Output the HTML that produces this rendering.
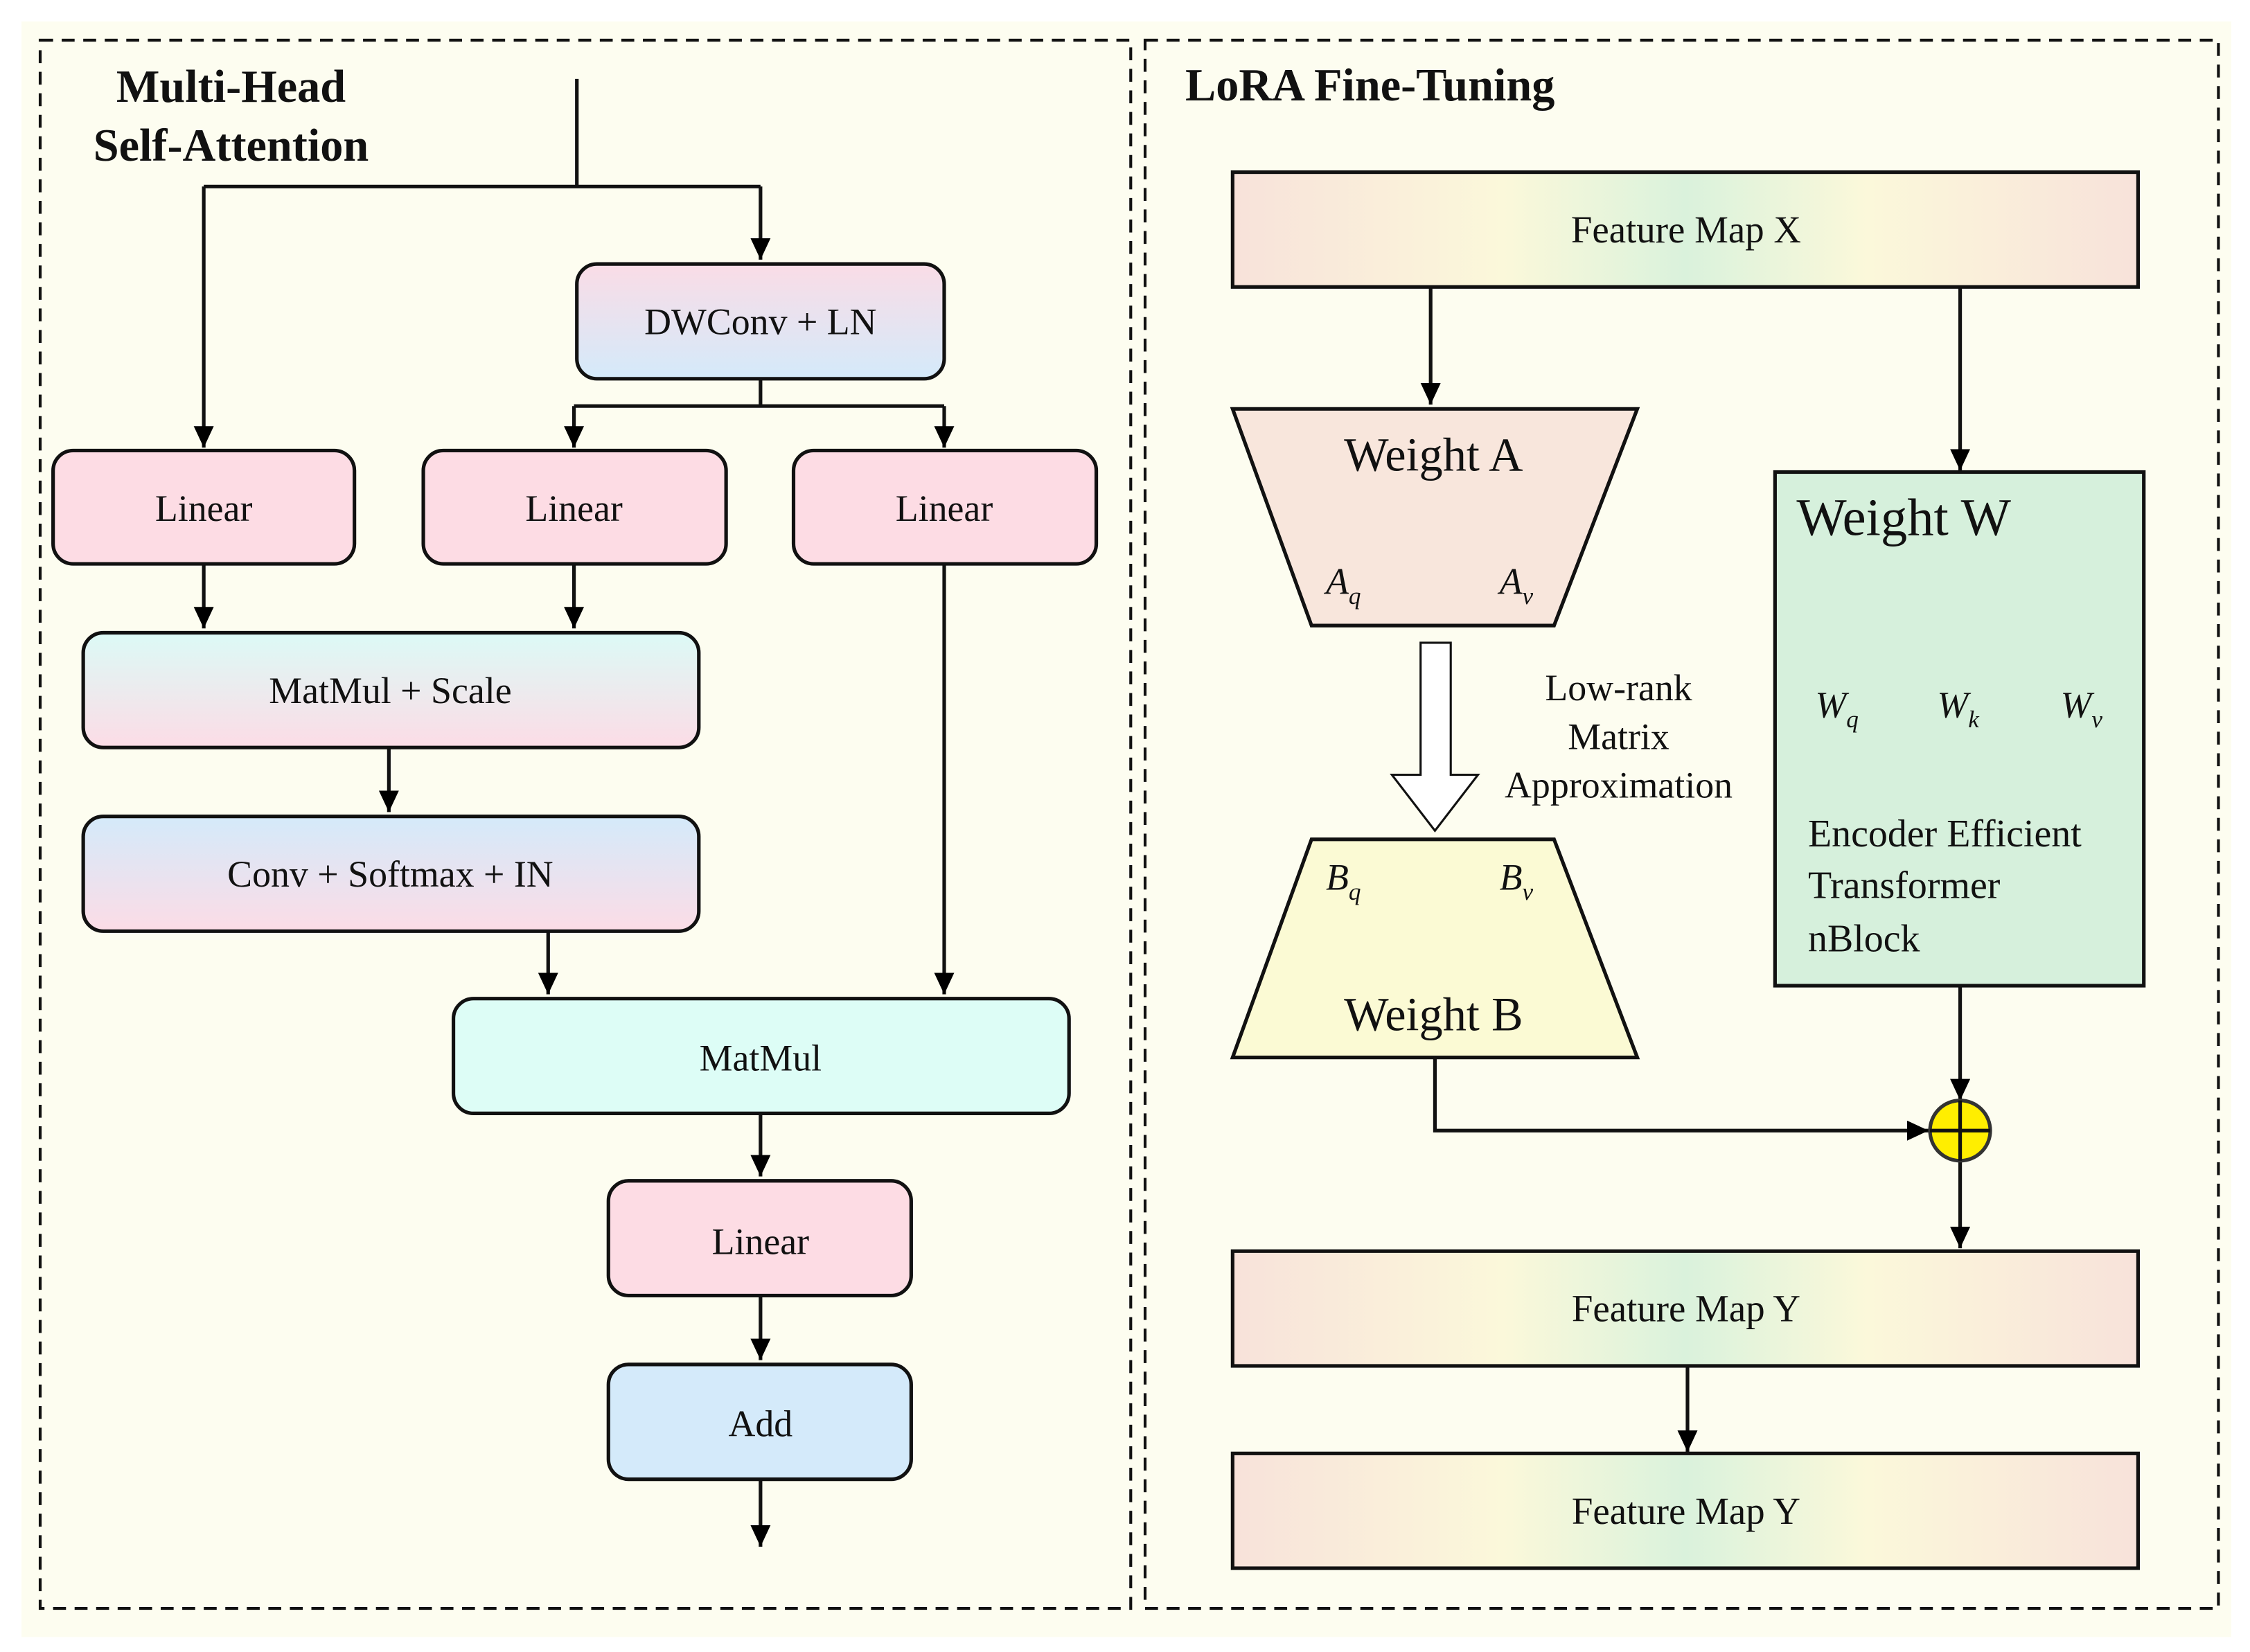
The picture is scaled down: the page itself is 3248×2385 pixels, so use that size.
<!DOCTYPE html>
<html><head><meta charset="utf-8"><style>
html,body{margin:0;padding:0;background:#fff}
svg{display:block}
text{font-family:"Liberation Serif",serif;fill:#111}
</style></head><body>
<svg width="3248" height="2385" viewBox="0 0 1568 1151.4" preserveAspectRatio="none" xmlns="http://www.w3.org/2000/svg">
<defs>
<linearGradient id="pb" x1="0" y1="0" x2="0" y2="1"><stop offset="0" stop-color="#fadce6"/><stop offset="1" stop-color="#d4eafa"/></linearGradient>
<linearGradient id="cp" x1="0" y1="0" x2="0" y2="1"><stop offset="0" stop-color="#dcfaf6"/><stop offset="1" stop-color="#fcdce6"/></linearGradient>
<linearGradient id="bp" x1="0" y1="0" x2="0" y2="1"><stop offset="0" stop-color="#d4eafa"/><stop offset="1" stop-color="#fcdce6"/></linearGradient>
<linearGradient id="fm" x1="0" y1="0" x2="1" y2="0"><stop offset="0" stop-color="#f8e2da"/><stop offset="0.3" stop-color="#fbf8da"/><stop offset="0.5" stop-color="#daf2dc"/><stop offset="0.7" stop-color="#fbf8da"/><stop offset="1" stop-color="#f8e2da"/></linearGradient>
<marker id="av" markerWidth="16" markerHeight="16" refX="15" refY="7" orient="auto" markerUnits="userSpaceOnUse"><path d="M0,0 L15,7 L0,14 z" fill="#000"/></marker>
</defs>
<rect x="15" y="15" width="1540" height="1126" fill="#fdfdf0"/>
<rect x="28" y="28" width="760" height="1093" fill="none" stroke="#111" stroke-width="2" stroke-dasharray="9,6"/>
<rect x="798" y="28" width="748" height="1093" fill="none" stroke="#111" stroke-width="2" stroke-dasharray="9,6"/>
<text x="161" y="71" font-size="32" font-weight="bold" text-anchor="middle">Multi-Head</text>
<text x="161" y="112" font-size="32" font-weight="bold" text-anchor="middle">Self-Attention</text>
<text x="826" y="70" font-size="32" font-weight="bold">LoRA Fine-Tuning</text>

<g stroke="#111" stroke-width="2.5" fill="none">
<path d="M402,55 V130 M142,130 H530"/>
<path d="M142,130 V312" marker-end="url(#av)"/>
<path d="M530,130 V181" marker-end="url(#av)"/>
<path d="M530,265 V283 M400,283 H658"/>
<path d="M400,283 V312" marker-end="url(#av)"/>
<path d="M658,283 V312" marker-end="url(#av)"/>
<path d="M142,394 V438" marker-end="url(#av)"/>
<path d="M400,394 V438" marker-end="url(#av)"/>
<path d="M658,394 V693" marker-end="url(#av)"/>
<path d="M271,521 V566" marker-end="url(#av)"/>
<path d="M382,649 V693" marker-end="url(#av)"/>
<path d="M530,777 V820" marker-end="url(#av)"/>
<path d="M530,904 V948" marker-end="url(#av)"/>
<path d="M530,1032 V1078" marker-end="url(#av)"/>
</g>
<g stroke="#111" stroke-width="2.5">
<rect x="402" y="184" width="256" height="80" rx="14" fill="url(#pb)"/>
<rect x="37" y="314" width="210" height="79" rx="14" fill="#fddce4"/>
<rect x="295" y="314" width="211" height="79" rx="14" fill="#fddce4"/>
<rect x="553" y="314" width="211" height="79" rx="14" fill="#fddce4"/>
<rect x="58" y="441" width="429" height="80" rx="14" fill="url(#cp)"/>
<rect x="58" y="569" width="429" height="80" rx="14" fill="url(#bp)"/>
<rect x="316" y="696" width="429" height="80" rx="14" fill="#ddfdf6"/>
<rect x="424" y="823" width="211" height="80" rx="14" fill="#fddce4"/>
<rect x="424" y="951" width="211" height="80" rx="14" fill="#d4eafa"/>
</g>
<g font-size="26" text-anchor="middle">
<text x="530" y="233">DWConv + LN</text>
<text x="142" y="363">Linear</text>
<text x="400" y="363">Linear</text>
<text x="658" y="363">Linear</text>
<text x="272" y="490">MatMul + Scale</text>
<text x="272" y="618">Conv + Softmax + IN</text>
<text x="530" y="746">MatMul</text>
<text x="530" y="874">Linear</text>
<text x="530" y="1001">Add</text>
</g>

<g stroke="#111" stroke-width="2.5" fill="none">
<path d="M997,200 V282" marker-end="url(#av)"/>
<path d="M1366,200 V328" marker-end="url(#av)"/>
<path d="M1366,688 V767" marker-end="url(#av)"/>
<path d="M1000,737 V788 H1344" marker-end="url(#av)"/>
<path d="M1366,810 V870" marker-end="url(#av)"/>
<path d="M1176,952 V1012" marker-end="url(#av)"/>
</g>
<g stroke="#111" stroke-width="2.5">
<rect x="859" y="120" width="631" height="80" fill="url(#fm)"/>
<rect x="859" y="872" width="631" height="80" fill="url(#fm)"/>
<rect x="859" y="1013" width="631" height="80" fill="url(#fm)"/>
<path d="M859,285 H1141 L1083,436 H914 Z" fill="#f8e6dc"/>
<path d="M914,585 H1083 L1141,737 H859 Z" fill="#fbfad4"/>
<rect x="1237" y="329" width="257" height="358" fill="#d6f0dc"/>
<path d="M990,448 H1011 V540 H1030 L1000,579 L970,540 H990 Z" fill="#fff" stroke-width="1.5"/>
<circle cx="1366" cy="788" r="21" fill="#ffee00" stroke="#333"/>
<path d="M1345,788 H1387 M1366,767 V809" stroke="#111"/>
</g>
<g font-size="26.5" text-anchor="middle">
<text x="1175" y="169">Feature Map X</text>
<text x="1175" y="921">Feature Map Y</text>
<text x="1175" y="1062">Feature Map Y</text>
</g>
<text x="999" y="328" font-size="33" text-anchor="middle">Weight A</text>
<text x="999" y="718" font-size="33" text-anchor="middle">Weight B</text>
<text x="1252" y="373" font-size="37">Weight  W</text>
<g font-size="26" font-style="italic">
<text x="924" y="414">A<tspan font-size="17" dy="7">q</tspan></text>
<text x="1045" y="414">A<tspan font-size="17" dy="7">v</tspan></text>
<text x="924" y="620">B<tspan font-size="17" dy="7">q</tspan></text>
<text x="1045" y="620">B<tspan font-size="17" dy="7">v</tspan></text>
<text x="1265" y="500">W<tspan font-size="17" dy="7">q</tspan></text>
<text x="1350" y="500">W<tspan font-size="17" dy="7">k</tspan></text>
<text x="1436" y="500">W<tspan font-size="17" dy="7">v</tspan></text>
</g>
<g font-size="26" text-anchor="middle">
<text x="1128" y="488">Low-rank</text>
<text x="1128" y="522">Matrix</text>
<text x="1128" y="556">Approximation</text>
</g>
<g font-size="27">
<text x="1260" y="590">Encoder  Efficient</text>
<text x="1260" y="626">Transformer</text>
<text x="1260" y="663">nBlock</text>
</g>
</svg>
</body></html>
